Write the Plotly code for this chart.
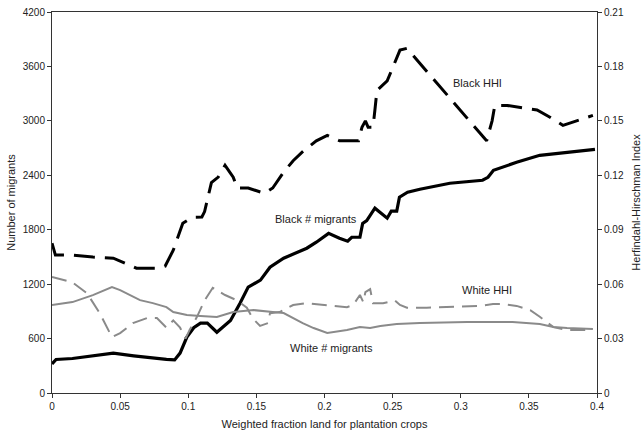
import plotly.graph_objects as go

# ---- data ----
black_mig_x = [0.0, 0.003, 0.015, 0.03, 0.045, 0.06, 0.075, 0.084, 0.09, 0.094, 0.099, 0.104, 0.109,
               0.114, 0.121, 0.131, 0.138, 0.144, 0.153, 0.160, 0.170, 0.187, 0.194, 0.203, 0.211,
               0.217, 0.220, 0.226, 0.228, 0.231, 0.237, 0.246, 0.249, 0.253, 0.255, 0.261, 0.270,
               0.292, 0.316, 0.320, 0.324, 0.341, 0.358, 0.3985]
black_mig_y = [320, 370, 380, 410, 440, 410, 380, 370, 365, 440, 617, 720, 770,
               770, 670, 800, 990, 1167, 1244, 1387, 1486, 1596, 1662, 1760, 1706,
               1673, 1717, 1717, 1870, 1900, 2037, 1927, 2004, 2004, 2158, 2213, 2246,
               2312, 2345, 2378, 2455, 2543, 2620, 2686]

white_mig_x = [0.0, 0.015, 0.03, 0.044, 0.05, 0.0646, 0.074, 0.084, 0.089, 0.099, 0.109, 0.121,
               0.133, 0.148, 0.162, 0.170, 0.184, 0.192, 0.202, 0.2165, 0.226, 0.2335, 0.241,
               0.253, 0.270, 0.3046, 0.338, 0.358, 0.368, 0.378, 0.397]
white_mig_y = [969, 1002, 1079, 1167, 1134, 1024, 991, 947, 892, 859, 848, 837,
               892, 914, 892, 881, 771, 716, 661, 694, 727, 716, 738,
               760, 771, 782, 782, 760, 727, 716, 705]

black_hhi_x = [0.0, 0.0025, 0.015, 0.03, 0.045, 0.05, 0.062, 0.079, 0.083, 0.089, 0.096, 0.103,
               0.110, 0.112, 0.117, 0.122, 0.127, 0.133, 0.136, 0.144, 0.156, 0.162, 0.170, 0.177,
               0.184, 0.194, 0.202, 0.211, 0.225, 0.2275, 0.230, 0.232, 0.2356, 0.237, 0.2385,
               0.246, 0.2495, 0.253, 0.2554, 0.2605, 0.270, 0.285, 0.299, 0.314, 0.319, 0.323,
               0.325, 0.334, 0.3486, 0.356, 0.3655, 0.375, 0.385, 0.397]
black_hhi_y = [0.0826, 0.076, 0.076, 0.0749, 0.0743, 0.0727, 0.0688, 0.0688, 0.0699, 0.0787, 0.0936, 0.0969,
               0.097, 0.100, 0.116, 0.119, 0.1255, 0.119, 0.113, 0.113, 0.110, 0.113, 0.1217, 0.128,
               0.133, 0.139, 0.142, 0.139, 0.139, 0.1465, 0.150, 0.1465, 0.1465, 0.156, 0.1668,
               0.172, 0.178, 0.185, 0.189, 0.190, 0.1817, 0.1685, 0.156, 0.143, 0.139, 0.150,
               0.1585, 0.1585, 0.157, 0.156, 0.152, 0.1475, 0.150, 0.153]

white_hhi_x = [0.0, 0.015, 0.0257, 0.035, 0.044, 0.05, 0.0594, 0.0697, 0.077, 0.084, 0.089, 0.094,
               0.098, 0.101, 0.1064, 0.112, 0.118, 0.127, 0.136, 0.143, 0.1475, 0.1527, 0.1585,
               0.160, 0.167, 0.177, 0.187, 0.202, 0.2165, 0.221, 0.226, 0.2285, 0.230, 0.2335,
               0.2356, 0.243, 0.2517, 0.2554, 0.2605, 0.275, 0.294, 0.314, 0.3237, 0.331, 0.341,
               0.351, 0.358, 0.368, 0.378, 0.39, 0.397]
white_hhi_y = [0.0639, 0.061, 0.055, 0.044, 0.0308, 0.033, 0.0385, 0.0413, 0.0413, 0.036, 0.040, 0.036,
               0.030, 0.0347, 0.042, 0.051, 0.058, 0.054, 0.051, 0.047, 0.041, 0.037, 0.0385,
               0.044, 0.0446, 0.0485, 0.0495, 0.0485, 0.0473, 0.0485, 0.054, 0.050, 0.0556, 0.0573,
               0.0495, 0.0495, 0.051, 0.0485, 0.047, 0.047, 0.0473, 0.048, 0.049, 0.049, 0.048,
               0.0457, 0.042, 0.0363, 0.0347, 0.0347, 0.0347]

x_ticks = [0, 0.05, 0.1, 0.15, 0.2, 0.25, 0.3, 0.35, 0.4]
x_tick_text = ["0", "0.05", "0.1", "0.15", "0.2", "0.25", "0.3", "0.35", "0.4"]
left_ticks = [0, 600, 1200, 1800, 2400, 3000, 3600, 4200]
right_ticks = [0, 0.03, 0.06, 0.09, 0.12, 0.15, 0.18, 0.21]
right_tick_text = ["0", "0.03", "0.06", "0.09", "0.12", "0.15", "0.18", "0.21"]

labels = ["Black HHI", "Black # migrants", "White HHI", "White # migrants"]
label_x = [0.312, 0.194, 0.319, 0.205]
label_yref = ["y2", "y", "y2", "y"]
label_y = [0.171, 1915, 0.057, 495]

FONT = "Liberation Sans, Arial, sans-serif"
TXT = "#222222"
GRAY = "#8a8a8a"

fig = go.Figure()
fig.add_trace(go.Scatter(x=black_hhi_x, y=black_hhi_y, mode="lines", yaxis="y2",
                         line=dict(color="black", width=3, dash="21px,10px")))
fig.add_trace(go.Scatter(x=black_mig_x, y=black_mig_y, mode="lines",
                         line=dict(color="black", width=3.2)))
fig.add_trace(go.Scatter(x=white_hhi_x, y=white_hhi_y, mode="lines", yaxis="y2",
                         line=dict(color=GRAY, width=2, dash="15px,8px")))
fig.add_trace(go.Scatter(x=white_mig_x, y=white_mig_y, mode="lines",
                         line=dict(color=GRAY, width=2)))

for t, xv, yr, yv in zip(labels, label_x, label_yref, label_y):
    fig.add_annotation(x=xv, y=yv, xref="x", yref=yr, text=t, showarrow=False,
                       font=dict(family=FONT, size=11, color=TXT))

fig.update_layout(
    width=643, height=431,
    margin=dict(l=52, r=46, t=12, b=38),
    paper_bgcolor="white", plot_bgcolor="white",
    showlegend=False,
    font=dict(family=FONT, size=10, color=TXT),
    xaxis=dict(range=[0, 0.4], tickvals=x_ticks, ticktext=x_tick_text, automargin=False,
               showgrid=False, zeroline=False, showline=True, linecolor="#333", linewidth=1,
               mirror=True, ticks="outside", ticklen=4, tickcolor="#333",
               title=dict(text="Weighted fraction land for plantation crops",
                          font=dict(size=11, color=TXT), standoff=9)),
    yaxis=dict(range=[0, 4200], tickvals=left_ticks, showgrid=False, zeroline=False,
               automargin=False,
               showline=True, linecolor="#333", linewidth=1, ticks="outside", ticklen=4,
               tickcolor="#333",
               title=dict(text="Number of migrants", font=dict(size=11, color=TXT), standoff=4)),
    yaxis2=dict(range=[0, 0.21], tickvals=right_ticks, ticktext=right_tick_text,
                automargin=False,
                overlaying="y", side="right", showgrid=False, zeroline=False,
                showline=True, linecolor="#333", linewidth=1, ticks="outside", ticklen=4,
                tickcolor="#333",
                title=dict(text="Herfindahl-Hirschman Index", font=dict(size=11, color=TXT), standoff=9)),
)

fig.write_html("out.html")
